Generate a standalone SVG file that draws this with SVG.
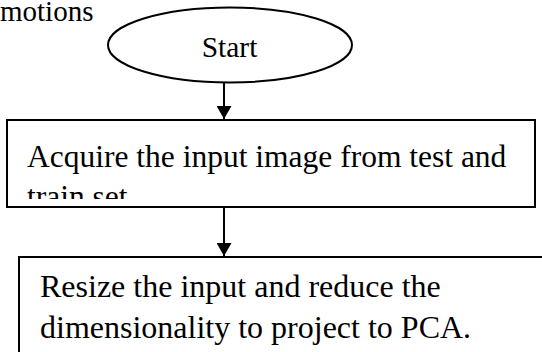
<svg xmlns="http://www.w3.org/2000/svg" width="542" height="352" viewBox="0 0 542 352">
<style>
.t{font-family:"Liberation Serif","Times New Roman",serif;fill:#000}
.b2{font-size:31.5px}
.b3{font-size:32px}
.shape{fill:#fff;stroke:#000;stroke-width:2}
.conn{stroke:#000;stroke-width:2;fill:none}
</style>
<defs>
<marker id="ah" viewBox="0 0 13 15" refX="13" refY="7.5" markerWidth="13" markerHeight="15" markerUnits="userSpaceOnUse" orient="auto">
<path d="M0,0 L13,7.5 L0,15 Z" fill="#000"/>
</marker>
<clipPath id="c2"><rect x="7" y="120" width="528" height="79"/></clipPath>
</defs>
<text class="t" x="0" y="21" font-size="29">motions</text>
<g id="start">
<ellipse class="shape" cx="230" cy="45" rx="122" ry="37.5"/>
<text class="t" x="229.5" y="57" font-size="29.5" text-anchor="middle">Start</text>
</g>
<g id="acquire">
<rect class="shape" x="7" y="120" width="528" height="87"/>
<g clip-path="url(#c2)">
<text class="t b2" x="27" y="167">Acquire the input image from test and</text>
<text class="t b2" x="27" y="207">train set</text>
</g>
</g>
<g id="resize">
<rect class="shape" x="19" y="257" width="530" height="100"/>
<text class="t b3" x="40" y="297">Resize the input and reduce the</text>
<text class="t b3" x="40" y="338">dimensionality to project to PCA.</text>
</g>
<g id="connectors">
<line class="conn" x1="224" y1="83" x2="224" y2="119" marker-end="url(#ah)"/>
<line class="conn" x1="224" y1="207" x2="224" y2="256" marker-end="url(#ah)"/>
</g>
</svg>
